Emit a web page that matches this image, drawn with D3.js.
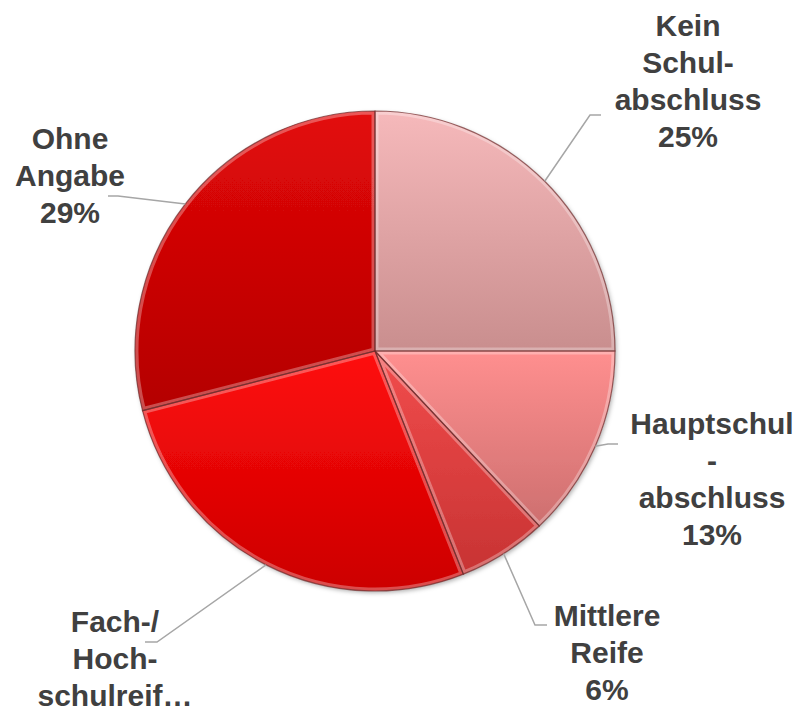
<!DOCTYPE html>
<html>
<head>
<meta charset="utf-8">
<script src="https://cdn.jsdelivr.net/npm/d3@7"></script>
<style>
  html, body { margin: 0; padding: 0; background: #ffffff; }
  svg { display: block; }
  text { font-family: "Liberation Sans", Arial, Helvetica, sans-serif; }
</style>
</head>
<body>
<script>
// ---- data ----
const categories = ["Kein Schulabschluss", "Hauptschulabschluss", "Mittlere Reife", "Fach-/Hochschulreife", "Ohne Angabe"];
const values = [25, 13, 6, 27, 29];
const labelLines = [
  ["Kein", "Schul-", "abschluss"],
  ["Hauptschul", "-", "abschluss"],
  ["Mittlere", "Reife"],
  ["Fach-/", "Hoch-", "schulreif…"],
  ["Ohne", "Angabe"]
];
// the percentage line of "Fach-/Hochschulreife" falls below the picture in the original
const showPercent = [true, true, true, false, true];
const colorsTop = ["#f6b9bb", "#ff8f8f", "#f24c4c", "#ff0c0c", "#e30909"];
const colorsBottom = ["#c98e8e", "#cd6f6f", "#c73333", "#cc0000", "#b40000"];

// ---- layout ----
const W = 805, H = 711;
const cx = 375, cy = 351, R = 240;
const labelPos = [   // center x, y of first text line (middle)
  [688, 25], [712, 423], [607, 615], [115, 621], [70, 138]
];
const lineH = 37;
const leaderPts = [  // elbow, end
  [[590, 115], [601, 115]],
  [[608, 444], [618, 444]],
  [[535, 625], [547, 625]],
  [[157, 642], [145, 642]],
  [[118, 196], [108, 196]]
];

const svg = d3.select("body").append("svg").attr("width", W).attr("height", H);
const defs = svg.append("defs");

values.forEach((v, i) => {
  const g = defs.append("linearGradient").attr("id", "grad" + i)
    .attr("x1", 0).attr("y1", 0).attr("x2", 0).attr("y2", 1);
  g.append("stop").attr("offset", "0%").attr("stop-color", colorsTop[i]);
  g.append("stop").attr("offset", "100%").attr("stop-color", colorsBottom[i]);
});
const shadow = defs.append("filter").attr("id", "shadow")
  .attr("x", "-10%").attr("y", "-10%").attr("width", "120%").attr("height", "120%");
shadow.append("feDropShadow").attr("dx", 1.5).attr("dy", 2).attr("stdDeviation", 2)
  .attr("flood-color", "#000").attr("flood-opacity", 0.3);

const pie = d3.pie().sort(null).value(d => d);
const arcs = pie(values);
const arc = d3.arc().innerRadius(0).outerRadius(R);

const gPie = svg.append("g").attr("transform", `translate(${cx},${cy})`);

arcs.forEach((a, i) => {
  defs.append("clipPath").attr("id", "clip" + i)
    .append("path").attr("d", arc(a));
});

const gShadow = gPie.append("g").attr("filter", "url(#shadow)");
gShadow.selectAll("path.slice").data(arcs).join("path")
  .attr("class", "slice")
  .attr("d", arc)
  .attr("fill", (d, i) => `url(#grad${i})`);

// inner bevel highlight
gPie.selectAll("path.bevel").data(arcs).join("path")
  .attr("class", "bevel")
  .attr("d", arc)
  .attr("fill", "none")
  .attr("stroke", "#ffffff")
  .attr("stroke-opacity", 0.3)
  .attr("stroke-width", 7)
  .attr("clip-path", (d, i) => `url(#clip${i})`);

gPie.selectAll("path.edge").data(arcs).join("path")
  .attr("class", "edge")
  .attr("d", arc)
  .attr("fill", "none")
  .attr("stroke", "#6e2a2a")
  .attr("stroke-opacity", 0.7)
  .attr("stroke-width", 1.2);

// leader lines
arcs.forEach((a, i) => {
  const mid = (a.startAngle + a.endAngle) / 2;
  const sx = cx + R * Math.sin(mid), sy = cy - R * Math.cos(mid);
  const pts = [[sx, sy], leaderPts[i][0], leaderPts[i][1]];
  svg.append("path")
    .attr("d", d3.line()(pts))
    .attr("fill", "none")
    .attr("stroke", "#a6a6a6")
    .attr("stroke-width", 1.5);
});

// labels
arcs.forEach((a, i) => {
  const lines = showPercent[i] ? labelLines[i].concat([Math.round(values[i]) + "%"]) : labelLines[i];
  const t = svg.append("text")
    .attr("text-anchor", "middle")
    .attr("font-weight", "bold")
    .attr("font-size", 30)
    .attr("fill", "#404040");
  lines.forEach((ln, k) => {
    t.append("tspan")
      .attr("x", labelPos[i][0])
      .attr("y", labelPos[i][1] + k * lineH)
      .attr("dy", "0.35em")
      .text(ln);
  });
});
</script>
</body>
</html>
